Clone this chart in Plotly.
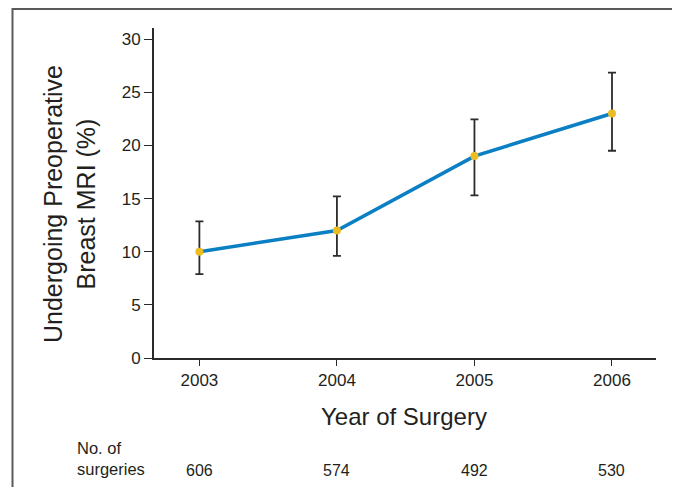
import plotly.graph_objects as go

years = [2003, 2004, 2005, 2006]
pct_mri = [10.0, 12.0, 19.0, 23.0]
ci_low = [7.9, 9.6, 15.3, 19.5]
ci_high = [12.85, 15.2, 22.45, 26.85]
n_surgeries = [606, 574, 492, 530]

FONT = "Liberation Sans, Arial, sans-serif"
dark = "#231f20"

err_plus = [h - v for h, v in zip(ci_high, pct_mri)]
err_minus = [v - l for v, l in zip(pct_mri, ci_low)]

fig = go.Figure()
fig.add_trace(go.Scatter(
    x=years, y=pct_mri, mode="lines+markers",
    line=dict(color="#0a7fc4", width=3.6),
    marker=dict(color="#ecbc22", size=8),
    error_y=dict(type="data", symmetric=False, array=err_plus, arrayminus=err_minus,
                 color="#2b2b2b", thickness=1.8, width=4),
    showlegend=False,
))

# page body has an 8px margin, so the figure is laid out 8px up/left of the reference
W, H = 672, 479
L, R, T, B = 146, 24, 20, 129
PW, PH = W - L - R, H - T - B

annotations = []
for yr, n in zip(years, n_surgeries):
    annotations.append(dict(x=yr, y=0, xref="x", yref="paper", yanchor="middle", yshift=-112,
                            text=str(n), showarrow=False,
                            font=dict(family=FONT, size=16, color=dark)))
annotations.append(dict(x=(67 - L) / PW, y=0, xref="paper", yref="paper", yanchor="middle",
                        yshift=-100, text="No. of<br>surgeries", showarrow=False, align="left",
                        xanchor="left", font=dict(family=FONT, size=16.5, color=dark)))
annotations.append(dict(x=0.498, y=0, xref="paper", yref="paper", yanchor="middle",
                        yshift=-58, text="Year of Surgery", showarrow=False,
                        font=dict(family=FONT, size=24, color=dark)))
annotations.append(dict(x=(61 - L) / PW, y=(PH + T - 196) / PH, xref="paper", yref="paper",
                        xanchor="center", yanchor="middle", textangle=-90,
                        text="Undergoing Preoperative<br>Breast MRI (%)", showarrow=False,
                        font=dict(family=FONT, size=25, color=dark)))

fig.update_layout(
    width=W, height=H,
    margin=dict(l=L, r=R, t=T, b=B),
    paper_bgcolor="white", plot_bgcolor="white",
    font=dict(family=FONT, color=dark),
    xaxis=dict(range=[2002.67, 2006.32], tickvals=years, ticktext=[str(y) for y in years],
               showgrid=False, zeroline=False, showline=True, linecolor="#2b2b2b", linewidth=2,
               ticks="outside", ticklen=6, tickcolor="#2b2b2b", tickwidth=1.3,
               tickfont=dict(size=17, family=FONT, color=dark)),
    yaxis=dict(range=[0, 31.05], tickvals=[0, 5, 10, 15, 20, 25, 30],
               showgrid=False, zeroline=False, showline=True, linecolor="#2b2b2b", linewidth=2,
               ticks="outside", ticklen=8, tickcolor="#2b2b2b", tickwidth=1.3,
               tickfont=dict(size=17, family=FONT, color=dark)),
    annotations=annotations,
    shapes=[dict(type="rect", xref="paper", yref="paper",
                 x0=(12.5 - 154) / 502, x1=(675 - 154) / 502,
                 y0=-0.8, y1=(358 - 9) / 330,
                 line=dict(color="#5a5a5a", width=2))],
)

fig.write_html("out.html")
